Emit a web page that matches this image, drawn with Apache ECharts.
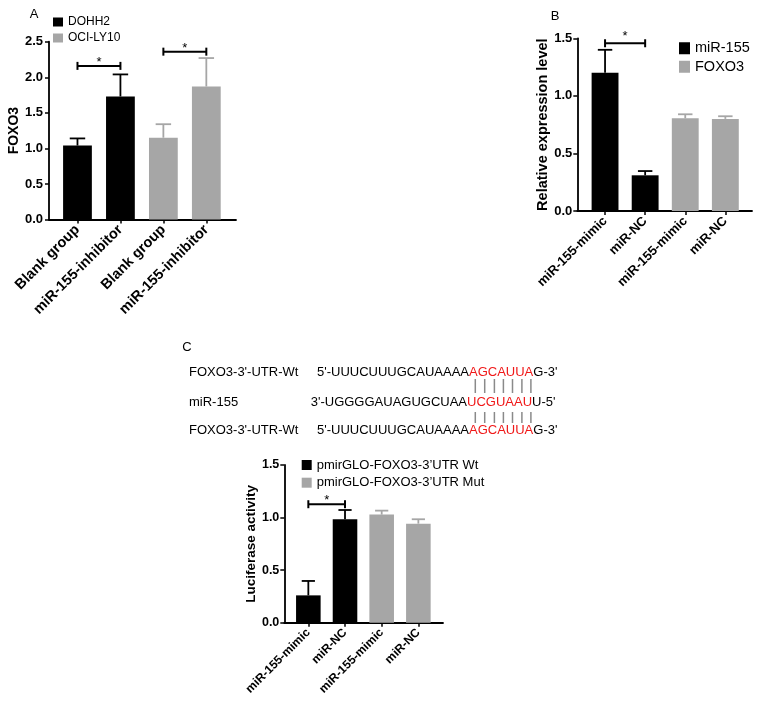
<!DOCTYPE html>
<html><head><meta charset="utf-8">
<script src="https://cdn.jsdelivr.net/npm/echarts@6/dist/echarts.min.js"></script>
<style>html,body{margin:0;padding:0;background:#fff}#c{width:760px;height:704px}</style>
</head><body><div id="c"></div>
<script>
// ---------- DATA ----------
// Panel A
const catsA = ['Blank group', 'miR-155-inhibitor', 'Blank group', 'miR-155-inhibitor'];
const meanA = [1.04, 1.73, 1.15, 1.87];
const upperA = [1.14, 2.04, 1.34, 2.27];
const groupA = [0, 0, 1, 1];
const namesA = ['DOHH2', 'OCI-LY10'];
const sigA = [[0, 1, 2.16], [2, 3, 2.36]];
const yMaxA = 2.5;
// Panel B
const catsB = ['miR-155-mimic', 'miR-NC', 'miR-155-mimic', 'miR-NC'];
const meanB = [1.20, 0.31, 0.805, 0.80];
const upperB = [1.40, 0.347, 0.84, 0.823];
const groupB = [0, 0, 1, 1];
const namesB = ['miR-155', 'FOXO3'];
const sigB = [[0, 1, 1.457]];
const yMaxB = 1.5;
// Panel C
const catsC = ['miR-155-mimic', 'miR-NC', 'miR-155-mimic', 'miR-NC'];
const meanC = [0.26, 0.984, 1.028, 0.942];
const upperC = [0.397, 1.072, 1.066, 0.984];
const groupC = [0, 0, 1, 1];
const namesC = ['pmirGLO-FOXO3-3\u2019UTR Wt', 'pmirGLO-FOXO3-3\u2019UTR Mut'];
const sigC = [[0, 1, 1.127]];
const yMaxC = 1.5;
const yStep = 0.5;
// Sequence panel text
const seqLabels = ["FOXO3-3'-UTR-Wt", 'miR-155', "FOXO3-3'-UTR-Wt"];
const seqLeft = ["5'-UUUCUUUGCAUAAAA", "3'-UGGGGAUAGUGCUAA", "5'-UUUCUUUGCAUAAAA"];
const seqSeed = ['AGCAUUA', 'UCGUAAU', 'AGCAUUA'];
const seqRight = ["G-3'", "U-5'", "G-3'"];

// ---------- STYLE / LAYOUT ----------
const FONT = 'Arial, "Liberation Sans", Helvetica, sans-serif';
const BLACK = '#000000', GRAY = '#a6a6a6', RED = '#f01818';
const COLORS = [BLACK, GRAY];

const panels = [
  { cats: catsA, mean: meanA, upper: upperA, group: groupA, names: namesA, sig: sigA, yMax: yMaxA,
    yName: 'FOXO3', nameSize: 14, nameGap: 27, tickSize: 13, labelMargin: 6, xSize: 14.5, starOff: 3,
    grid: { left: 56, top: 41.7, width: 171.8, height: 177.8 }, frameLeft: 49, frameRight: 236,
    legend: { left: 53, top: 16, itemWidth: 10, itemHeight: 9, fontSize: 12, itemGap: 4 } },
  { cats: catsB, mean: meanB, upper: upperB, group: groupB, names: namesB, sig: sigB, yMax: yMaxB,
    yName: 'Relative expression level', nameSize: 14.5, nameGap: 27, tickSize: 13, labelMargin: 5, xSize: 13, starOff: 7,
    grid: { left: 585, top: 38.3, width: 160.4, height: 172.7 }, frameLeft: 577.3, frameRight: 752,
    legend: { left: 679, top: 40.75, itemWidth: 11, itemHeight: 12, fontSize: 14.5, itemGap: 3.5 } },
  { cats: catsC, mean: meanC, upper: upperC, group: groupC, names: namesC, sig: sigC, yMax: yMaxC,
    yName: 'Luciferase activity', nameSize: 13.5, nameGap: 24, tickSize: 12.5, labelMargin: 5, xSize: 12, starOff: 4,
    grid: { left: 290, top: 465, width: 146.7, height: 157.7 }, frameLeft: 284.3, frameRight: 443,
    legend: { left: 301.7, top: 458.5, itemWidth: 10, itemHeight: 10, fontSize: 13, itemGap: 4.7 } }
];

const grids = [], xAxes = [], yAxes = [], series = [], legends = [];

panels.forEach((p, k) => {
  const gi = 2 * k;
  grids.push({ left: p.grid.left, top: p.grid.top, width: p.grid.width, height: p.grid.height });
  grids.push({ left: p.frameLeft, top: p.grid.top, width: p.frameRight - p.frameLeft, height: p.grid.height });

  xAxes.push({
    gridIndex: gi, type: 'category', data: p.cats,
    axisLine: { show: false },
    axisTick: { show: true, alignWithLabel: true, length: 4, lineStyle: { color: BLACK, width: 1.5 } },
    axisLabel: { rotate: 45, interval: 0, margin: 8, color: BLACK, fontWeight: 'bold', fontSize: p.xSize, fontFamily: FONT },
    splitLine: { show: false }
  });
  xAxes.push({
    gridIndex: gi + 1, type: 'value', min: 0, max: 1,
    axisLine: { show: true, onZero: false, lineStyle: { color: BLACK, width: 1.8 } },
    axisTick: { show: false }, axisLabel: { show: false }, splitLine: { show: false }
  });
  yAxes.push({
    gridIndex: gi, type: 'value', min: 0, max: p.yMax, interval: yStep,
    offset: p.grid.left - p.frameLeft,
    axisLine: { show: true, lineStyle: { color: BLACK, width: 1.8 } },
    axisTick: { show: true, length: 4, lineStyle: { color: BLACK, width: 1.5 } },
    axisLabel: { formatter: v => v.toFixed(1), color: BLACK, fontWeight: 'bold', fontSize: p.tickSize, fontFamily: FONT, margin: p.labelMargin },
    splitLine: { show: false },
    name: p.yName, nameLocation: 'middle', nameGap: p.nameGap,
    nameTextStyle: { color: BLACK, fontWeight: 'bold', fontSize: p.nameSize, fontFamily: FONT }
  });
  yAxes.push({ gridIndex: gi + 1, type: 'value', min: 0, max: 1, show: false });

  [0, 1].forEach(g => {
    series.push({
      type: 'bar', name: p.names[g], xAxisIndex: gi, yAxisIndex: gi,
      data: p.mean.map((v, i) => p.group[i] === g ? v : '-'),
      barWidth: '67%', barGap: '-100%',
      itemStyle: { color: COLORS[g] }, silent: true
    });
  });

  series.push({
    type: 'custom', name: 'err' + k, xAxisIndex: gi, yAxisIndex: gi, silent: true, z: 5,
    encode: { x: 0, y: [1, 2] },
    data: p.mean.map((v, i) => [i, v, p.upper[i], p.group[i]]),
    renderItem: (params, api) => {
      const i = api.value(0), v = api.value(1), u = api.value(2), g = api.value(3);
      const p0 = api.coord([i, v]), p1 = api.coord([i, u]);
      const hw = api.size([1, 0])[0] * 0.18;
      const col = COLORS[g];
      return { type: 'group', children: [
        { type: 'line', shape: { x1: p0[0], y1: p0[1], x2: p1[0], y2: p1[1] }, style: { stroke: col, lineWidth: 1.8 } },
        { type: 'line', shape: { x1: p1[0] - hw, y1: p1[1], x2: p1[0] + hw, y2: p1[1] }, style: { stroke: col, lineWidth: 1.8 } }
      ] };
    }
  });

  series.push({
    type: 'custom', name: 'sig' + k, xAxisIndex: gi, yAxisIndex: gi, silent: true, z: 5,
    encode: { x: [0, 1], y: 2 },
    data: p.sig,
    renderItem: (params, api) => {
      const a = api.coord([api.value(0), api.value(2)]);
      const b = api.coord([api.value(1), api.value(2)]);
      const t = 4;
      const st = { stroke: BLACK, lineWidth: 2 };
      return { type: 'group', children: [
        { type: 'line', shape: { x1: a[0], y1: a[1], x2: b[0], y2: b[1] }, style: st },
        { type: 'line', shape: { x1: a[0], y1: a[1] - t, x2: a[0], y2: a[1] + t }, style: st },
        { type: 'line', shape: { x1: b[0], y1: b[1] - t, x2: b[0], y2: b[1] + t }, style: st },
        { type: 'text', style: { text: '*', x: (a[0] + b[0]) / 2, y: a[1] - p.starOff, align: 'center', verticalAlign: 'middle',
          font: '13px ' + FONT, fill: BLACK } }
      ] };
    }
  });

  legends.push({
    data: p.names, orient: 'vertical', left: p.legend.left, top: p.legend.top, padding: 0,
    icon: 'rect', itemWidth: p.legend.itemWidth, itemHeight: p.legend.itemHeight, itemGap: p.legend.itemGap,
    selectedMode: false,
    textStyle: { color: BLACK, fontSize: p.legend.fontSize, fontFamily: FONT }
  });
});

// ---------- Graphic text (panel letters, sequence alignment) ----------
const graphics = [];
[['A', 34, 14], ['B', 555, 16], ['C', 187, 347]].forEach(([t, x, y]) => {
  graphics.push({ type: 'text', style: { text: t, x: x, y: y, align: 'center', verticalAlign: 'middle', font: '13px ' + FONT, fill: BLACK } });
});
const seqY = [372, 402, 430];
const seqX = [317, 310.7, 317];
seqLabels.forEach((lab, i) => {
  graphics.push({ type: 'text', style: { text: lab, x: 189, y: seqY[i], verticalAlign: 'middle', font: '13px ' + FONT, fill: BLACK } });
  graphics.push({ type: 'text', style: {
    text: '{k|' + seqLeft[i] + '}{r|' + seqSeed[i] + '}{k|' + seqRight[i] + '}',
    x: seqX[i], y: seqY[i], verticalAlign: 'middle',
    rich: { k: { fill: BLACK, font: '13px ' + FONT }, r: { fill: RED, font: '13px ' + FONT } }
  } });
});
// base-pair ticks
const pairX = [475.3, 484.7, 494.4, 503.4, 512.5, 521.9, 530.9];
[[379, 393], [412, 423]].forEach(([y1, y2]) => {
  pairX.forEach(x => graphics.push({ type: 'line', shape: { x1: x, y1: y1, x2: x, y2: y2 }, style: { stroke: '#8a8a8a', lineWidth: 1.5 } }));
});

const chart = echarts.init(document.getElementById('c'), null, { renderer: 'canvas' });
chart.setOption({
  animation: false,
  backgroundColor: '#ffffff',
  grid: grids, xAxis: xAxes, yAxis: yAxes, series: series, legend: legends,
  graphic: graphics
});
</script></body></html>
